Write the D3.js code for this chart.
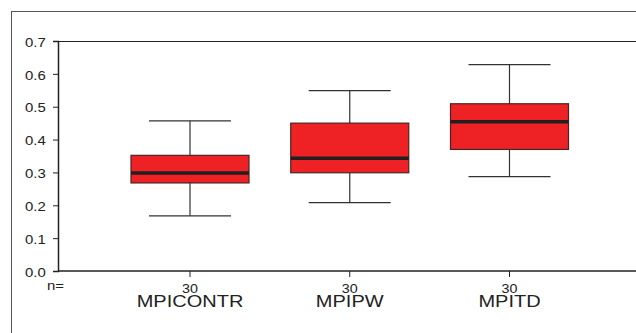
<!DOCTYPE html>
<html>
<head>
<meta charset="utf-8">
<script src="https://cdn.jsdelivr.net/npm/d3@7"></script>
<style>
  body { margin: 0; background: #fff; }
  text { font-family: "Liberation Sans", Arial, sans-serif; fill: #222; }
</style>
</head>
<body>
<div id="chart"></div>
<script>
    // box plot values
    var categories = ["MPICONTR", "MPIPW", "MPITD"];
    var counts = [30, 30, 30];
    var whiskerLow = [0.168, 0.208, 0.287];
    var q1 = [0.268, 0.299, 0.370];
    var medians = [0.298, 0.343, 0.454];
    var q3 = [0.352, 0.450, 0.509];
    var whiskerHigh = [0.457, 0.549, 0.628];
    var yTicks = [0, 0.1, 0.2, 0.3, 0.4, 0.5, 0.6, 0.7];

    var width = 636, height = 333;
    var margin = {top: 41, left: 58, bottom: 62};
    var plotBottom = height - margin.bottom;
    var stretch = 1.15;   // the original type is set a bit wide

    var svg = d3.select("#chart").append("svg")
        .attr("width", width)
        .attr("height", height);

    // outer frame, runs off the right and bottom edges
    svg.append("rect")
        .attr("x", 11.5).attr("y", 11.5)
        .attr("width", 700).attr("height", 400)
        .attr("fill", "none")
        .attr("stroke", "#555")
        .attr("stroke-width", 1);

    var y = d3.scaleLinear().domain([0, 0.7]).range([plotBottom, margin.top]);
    var x = d3.scalePoint().domain(categories).range([190, 509.5]);

    var boxW = 118, capW = 82;

    var data = categories.map(function(c, i) {
      return {cat: c, n: counts[i], lo: whiskerLow[i], q1: q1[i], med: medians[i], q3: q3[i], hi: whiskerHigh[i]};
    });

    // plot frame: top line + axes
    svg.append("line")
        .attr("x1", margin.left).attr("x2", width)
        .attr("y1", margin.top + 0.5).attr("y2", margin.top + 0.5)
        .attr("stroke", "#222").attr("stroke-width", 1.2);

    var yAxis = svg.append("g")
        .attr("transform", "translate(" + margin.left + ",0)")
        .call(d3.axisLeft(y).tickValues(yTicks).tickFormat(d3.format(".1f")).tickSize(5));
    yAxis.select(".domain").attr("stroke", "#222").attr("stroke-width", 1.5);
    yAxis.selectAll(".tick line").attr("stroke", "#222");
    yAxis.selectAll("text")
        .attr("font-size", 13).attr("fill", "#222")
        .attr("font-family", "Liberation Sans, Arial, sans-serif")
        .attr("x", -12.3 / stretch)
        .attr("dy", "0.4em")
        .attr("transform", "scale(" + stretch + ",1)");

    svg.append("line")
        .attr("x1", margin.left).attr("x2", width)
        .attr("y1", plotBottom).attr("y2", plotBottom)
        .attr("stroke", "#222").attr("stroke-width", 1.5);

    var g = svg.selectAll("g.box").data(data).enter().append("g")
        .attr("class", "box");

    // x ticks
    g.append("line")
        .attr("x1", function(d) { return x(d.cat); })
        .attr("x2", function(d) { return x(d.cat); })
        .attr("y1", plotBottom).attr("y2", plotBottom + 6)
        .attr("stroke", "#222");

    // whiskers
    g.append("line")
        .attr("x1", function(d) { return x(d.cat); })
        .attr("x2", function(d) { return x(d.cat); })
        .attr("y1", function(d) { return y(d.hi); })
        .attr("y2", function(d) { return y(d.lo); })
        .attr("stroke", "#333").attr("stroke-width", 1.2);

    ["hi", "lo"].forEach(function(k) {
      g.append("line")
          .attr("x1", function(d) { return x(d.cat) - capW / 2; })
          .attr("x2", function(d) { return x(d.cat) + capW / 2; })
          .attr("y1", function(d) { return y(d[k]); })
          .attr("y2", function(d) { return y(d[k]); })
          .attr("stroke", "#333").attr("stroke-width", 1.2);
    });

    // boxes
    g.append("rect")
        .attr("x", function(d) { return x(d.cat) - boxW / 2; })
        .attr("y", function(d) { return y(d.q3); })
        .attr("width", boxW)
        .attr("height", function(d) { return y(d.q1) - y(d.q3); })
        .attr("fill", "#ee2224")
        .attr("stroke", "#4a2424")
        .attr("stroke-width", 1.2);

    // medians
    g.append("line")
        .attr("x1", function(d) { return x(d.cat) - boxW / 2; })
        .attr("x2", function(d) { return x(d.cat) + boxW / 2; })
        .attr("y1", function(d) { return y(d.med); })
        .attr("y2", function(d) { return y(d.med); })
        .attr("stroke", "#231f20").attr("stroke-width", 3.5);

    // counts and labels
    g.append("text")
        .attr("transform", function(d) { return "translate(" + x(d.cat) + ",293) scale(1.1,1)"; })
        .attr("text-anchor", "middle")
        .attr("font-size", 13)
        .text(function(d) { return d.n; });

    g.append("text")
        .attr("transform", function(d) { return "translate(" + x(d.cat) + ",307) scale(1.25,1)"; })
        .attr("text-anchor", "middle")
        .attr("font-size", 16)
        .text(function(d) { return d.cat; });

    svg.append("text")
        .attr("transform", "translate(47,290) scale(" + stretch + ",1)")
        .attr("font-size", 13)
        .text("n=");
</script>
</body>
</html>
